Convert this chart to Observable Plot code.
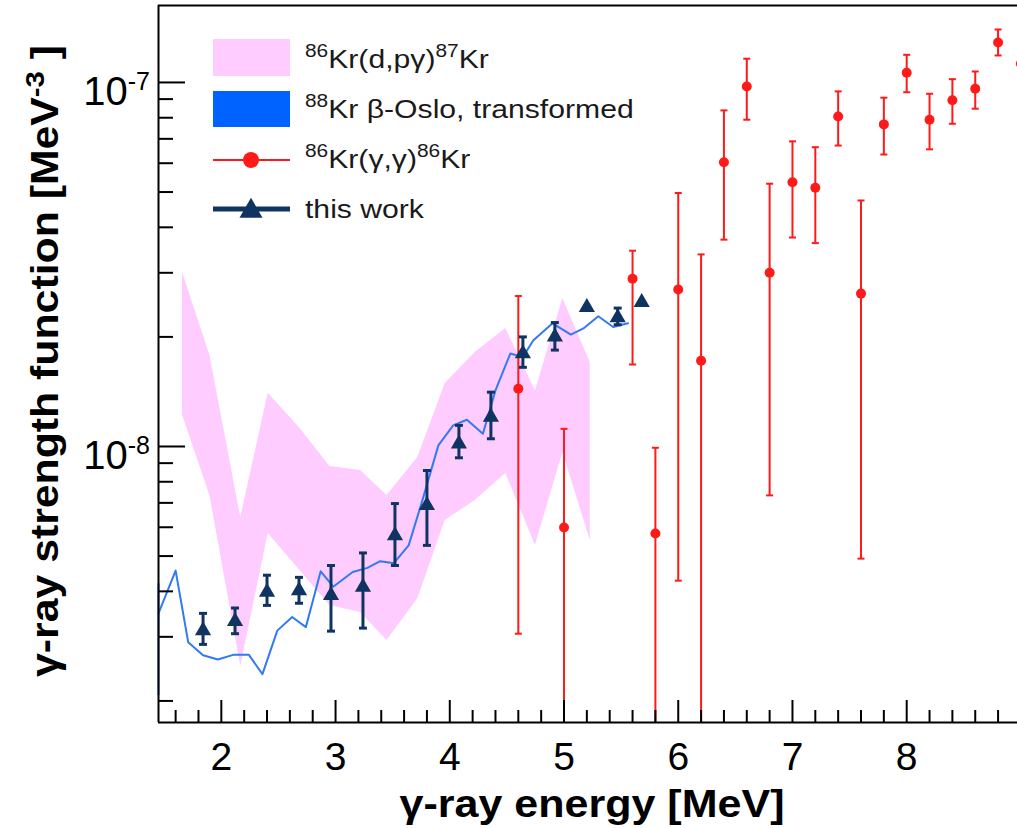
<!DOCTYPE html>
<html><head><meta charset="utf-8">
<script src="https://cdn.jsdelivr.net/npm/d3@7"></script>
<script src="https://cdn.jsdelivr.net/npm/@observablehq/plot@0.6"></script>
<style>
html,body{margin:0;padding:0;background:#fff;overflow:hidden}
#chart svg{display:block}
</style>
</head><body><div id="chart"></div>
<script>
// ---- Data ----
// 86Kr(d,p gamma)87Kr band
const bandE  = [1.66,1.90,2.17,2.41,2.69,2.95,3.22,3.45,3.72,3.96,4.22,4.49,4.75,4.99,5.23];
const bandHi = [3.01e-8,1.78e-8,6.38e-9,1.40e-8,1.12e-8,8.81e-9,8.59e-9,7.34e-9,9.33e-9,1.49e-8,1.81e-8,2.11e-8,1.42e-8,2.55e-8,1.70e-8];
const bandLo = [1.22e-8,7.34e-9,2.49e-9,5.77e-9,4.56e-9,3.66e-9,3.50e-9,2.93e-9,3.82e-9,6.26e-9,7.10e-9,8.43e-9,5.35e-9,9.63e-9,5.52e-9];

// 88Kr beta-Oslo, transformed
const osloE = [1.45,1.60,1.71,1.84,1.97,2.11,2.24,2.36,2.49,2.62,2.74,2.87,2.98,3.15,3.28,3.39,3.51,3.64,3.76,3.90,4.03,4.15,4.29,4.40,4.53,4.64,4.73,4.90,5.06,5.17,5.30,5.43,5.56];
const osloS = [3.48e-9,4.56e-9,2.90e-9,2.67e-9,2.60e-9,2.68e-9,2.68e-9,2.37e-9,3.12e-9,3.40e-9,3.19e-9,4.54e-9,4.12e-9,4.52e-9,4.64e-9,4.84e-9,4.78e-9,5.35e-9,7.11e-9,1.007e-8,1.143e-8,1.184e-8,1.084e-8,1.425e-8,1.80e-8,1.76e-8,1.955e-8,2.18e-8,2.03e-8,2.11e-8,2.28e-8,2.13e-8,2.18e-8];
// clipped edge of the Oslo curve at the left frame
const osloEdgeE = [1.45];
const osloEdgeLo = [2.07e-9];
const osloEdgeHi = [4.21e-9];

// 86Kr(gamma,gamma)86Kr
const gamE  = [4.6,5.0,5.6,5.8,6.0,6.2,6.4,6.6,6.8,7.0,7.2,7.4,7.6,7.8,8.0,8.2,8.4,8.6,8.8,9.0];
const gamS  = [1.44e-8,5.99e-9,2.89e-8,5.77e-9,2.70e-8,1.72e-8,6.04e-8,9.75e-8,3.00e-8,5.32e-8,5.14e-8,8.06e-8,2.63e-8,7.67e-8,1.063e-7,7.90e-8,8.94e-8,9.61e-8,1.288e-7,1.126e-7];
const gamLo = [3.06e-9,1.0e-9,1.68e-8,1.0e-9,4.28e-9,1.0e-9,3.70e-8,7.90e-8,7.34e-9,3.75e-8,3.62e-8,6.71e-8,4.92e-9,6.34e-8,9.40e-8,6.55e-8,7.70e-8,8.47e-8,1.186e-7,1.02e-7];
const gamHi = [2.59e-8,1.118e-8,3.45e-8,9.92e-9,4.97e-8,3.37e-8,8.38e-8,1.162e-7,5.27e-8,6.89e-8,6.64e-8,9.45e-8,4.74e-8,9.08e-8,1.191e-7,9.31e-8,1.021e-7,1.072e-7,1.398e-7,1.25e-7];

// this work
const workE  = [1.84,2.12,2.40,2.68,2.96,3.24,3.52,3.80,4.08,4.36,4.64,4.92,5.20,5.47,5.68];
const workS  = [3.12e-9,3.31e-9,3.98e-9,4.02e-9,3.90e-9,4.11e-9,5.69e-9,6.89e-9,1.017e-8,1.204e-8,1.80e-8,2.00e-8,2.41e-8,2.26e-8,2.49e-8];
const workLo = [2.86e-9,3.06e-9,3.66e-9,3.71e-9,3.11e-9,3.17e-9,4.71e-9,5.35e-9,9.31e-9,1.05e-8,1.65e-8,1.84e-8,null,2.16e-8,null];
const workHi = [3.48e-9,3.60e-9,4.43e-9,4.37e-9,4.71e-9,5.10e-9,6.97e-9,8.59e-9,1.143e-8,1.41e-8,2.00e-8,2.19e-8,null,2.40e-8,null];

// axes
const xDomain = [1.45, 8.97];
const yDomain = [1.745e-9, 1.627e-7];
const xMajor = [2,3,4,5,6,7,8];
const xMinor = [1.6,1.8,2.2,2.4,2.6,2.8,3.2,3.4,3.6,3.8,4.2,4.4,4.6,4.8,5.2,5.4,5.6,5.8,6.2,6.4,6.6,6.8,7.2,7.4,7.6,7.8,8.2,8.4,8.6,8.8];
const yMajor = [1e-8, 1e-7];
const yMajorBase = ["10", "10"];
const yMajorExp = ["-8", "-7"];
const yMinor = [2e-9,3e-9,4e-9,5e-9,6e-9,7e-9,8e-9,9e-9,2e-8,3e-8,4e-8,5e-8,6e-8,7e-8,8e-8,9e-8];

const legendLabels = [
  [["86",1],["Kr(d,pγ)",0],["87",1],["Kr",0]],
  [["88",1],["Kr β-Oslo, transformed",0]],
  [["86",1],["Kr(γ,γ)",0],["86",1],["Kr",0]],
  [["this work",0]]
];
const xTitle = "γ-ray energy [MeV]";
const yTitle = [["γ-ray strength function [MeV",0],["-3",1],[" ]",0]];

// colours
const PINK = "#ffccff", BLUE = "#3179f7", BLUE_RECT = "#0062ff", RED = "#ff1a1a", NAVY = "#0f3461";

// ---- Table building ----
const band = bandE.map((e,i)=>({e, lo: bandLo[i], hi: bandHi[i]}));
const oslo = osloE.map((e,i)=>({e, s: osloS[i]}));
const osloEdge = osloEdgeE.map((e,i)=>({e, lo: osloEdgeLo[i], hi: osloEdgeHi[i]}));
const gam = gamE.map((e,i)=>({e, s: gamS[i], lo: gamLo[i], hi: gamHi[i]}));
const work = workE.map((e,i)=>({e, s: workS[i], lo: workLo[i], hi: workHi[i]}));
const workErr = work.filter(d => d.lo != null);

// horizontal cap symbol: r = half-width
const capSymbol = {draw(ctx, size){ const w = Math.sqrt(size/Math.PI); ctx.moveTo(-w,0); ctx.lineTo(w,0); }};

const plot = Plot.plot({
  width: 1017, height: 828,
  marginLeft: 158, marginRight: 0, marginTop: 5, marginBottom: 106,
  style: {fontFamily: "'Liberation Sans', Arial, sans-serif", background: "#fff", color: "#000"},
  x: {type: "linear", domain: xDomain},
  y: {type: "log", domain: yDomain},
  marks: [
    Plot.areaY(band, {x: "e", y1: "lo", y2: "hi", fill: PINK, fillOpacity: 1}),
    Plot.line(oslo, {x: "e", y: "s", stroke: BLUE, strokeWidth: 2}),
    Plot.ruleX(osloEdge, {x: "e", y1: "lo", y2: "hi", stroke: BLUE, strokeWidth: 2}),
    // red data
    Plot.ruleX(gam, {x: "e", y1: "lo", y2: "hi", stroke: RED, strokeWidth: 2, clip: true}),
    Plot.dot(gam, {x: "e", y: "lo", symbol: capSymbol, r: 3.5, stroke: RED, strokeWidth: 2, clip: true}),
    Plot.dot(gam, {x: "e", y: "hi", symbol: capSymbol, r: 3.5, stroke: RED, strokeWidth: 2, clip: true}),
    Plot.dot(gam, {x: "e", y: "s", r: 5, fill: RED, stroke: "none"}),
    // this work
    Plot.ruleX(workErr, {x: "e", y1: "lo", y2: "hi", stroke: NAVY, strokeWidth: 3}),
    Plot.dot(workErr, {x: "e", y: "lo", symbol: capSymbol, r: 4, stroke: NAVY, strokeWidth: 3}),
    Plot.dot(workErr, {x: "e", y: "hi", symbol: capSymbol, r: 4, stroke: NAVY, strokeWidth: 3}),
    Plot.dot(work, {x: "e", y: "s", symbol: "triangle", r: 6, fill: NAVY, stroke: "none"}),
    // frame
    Plot.ruleY([yDomain[0]], {stroke: "#000", strokeWidth: 2}),
    Plot.ruleY([yDomain[1]], {stroke: "#000", strokeWidth: 2}),
    Plot.ruleX([xDomain[0]], {stroke: "#000", strokeWidth: 2}),
    // ticks (inward)
    Plot.axisX({ticks: xMajor, tickSize: -22, tickFormat: () => "", stroke: "#000", strokeWidth: 2, label: null}),
    Plot.axisX({ticks: xMinor, tickSize: -12, tickFormat: () => "", stroke: "#000", strokeWidth: 2, label: null}),
    Plot.axisX({ticks: xMajor, tickSize: 0, tickPadding: 20, fontSize: 39, label: null}),
    Plot.axisY({ticks: yMajor, tickSize: -27, tickFormat: () => "", stroke: "#000", strokeWidth: 2, label: null}),
    Plot.axisY({ticks: yMinor, tickSize: -15, tickFormat: () => "", stroke: "#000", strokeWidth: 2, label: null})
  ]
});

document.getElementById("chart").appendChild(plot);
const svg = d3.select(plot);
const yScale = plot.scale("y");

function rich(sel, parts, supSize, supShift) {
  let up = false;
  parts.forEach(([txt, sup]) => {
    const ts = sel.append("tspan").text(txt);
    if (sup && !up) { ts.attr("dy", -supShift).attr("font-size", supSize); up = true; }
    else if (sup && up) { ts.attr("font-size", supSize); }
    else if (!sup && up) { ts.attr("dy", supShift); up = false; }
  });
}

// y tick labels with superscripts, placed with the plot's own y scale
yMajor.forEach((v, i) => {
  const t = svg.append("text")
    .attr("x", 150).attr("y", yScale.apply(v) + 23)
    .attr("text-anchor", "end").attr("font-size", 40).attr("fill", "#000");
  rich(t, [[yMajorBase[i], 0], [yMajorExp[i], 1]], 25, 15);
});

// axis titles
svg.append("text")
  .attr("x", 592).attr("y", 817)
  .attr("text-anchor", "middle").attr("font-weight", "bold").attr("font-size", 38)
  .attr("textLength", 385).attr("lengthAdjust", "spacingAndGlyphs")
  .attr("fill", "#000")
  .text(xTitle);

const yt = svg.append("text")
  .attr("transform", "translate(58,361) rotate(-90)")
  .attr("text-anchor", "middle").attr("font-weight", "bold").attr("font-size", 38)
  .attr("textLength", 632).attr("lengthAdjust", "spacingAndGlyphs")
  .attr("fill", "#000");
rich(yt, yTitle, 26, 14);

// legend
const lg = svg.append("g");
lg.append("rect").attr("x", 213).attr("y", 39).attr("width", 77).attr("height", 37).attr("fill", PINK);
lg.append("rect").attr("x", 213).attr("y", 91).attr("width", 77).attr("height", 36).attr("fill", BLUE_RECT);
lg.append("line").attr("x1", 213).attr("x2", 290).attr("y1", 160).attr("y2", 160).attr("stroke", RED).attr("stroke-width", 2);
lg.append("circle").attr("cx", 251).attr("cy", 160).attr("r", 8).attr("fill", RED);
lg.append("line").attr("x1", 213).attr("x2", 290).attr("y1", 209).attr("y2", 209).attr("stroke", NAVY).attr("stroke-width", 5);
lg.append("path").attr("transform", "translate(251,211)").attr("d", d3.symbol(d3.symbolTriangle, 230)()).attr("fill", NAVY);
const baselines = [68, 118, 168, 218];
legendLabels.forEach((parts, i) => {
  const g = lg.append("g").attr("transform", `translate(305,${baselines[i]}) scale(1.16,1)`);
  const t = g.append("text").attr("x", 0).attr("y", 0).attr("text-anchor", "start")
    .attr("font-size", 26).attr("fill", "#1a1a1a");
  rich(t, parts, 18, 11);
});
</script>
</body></html>
